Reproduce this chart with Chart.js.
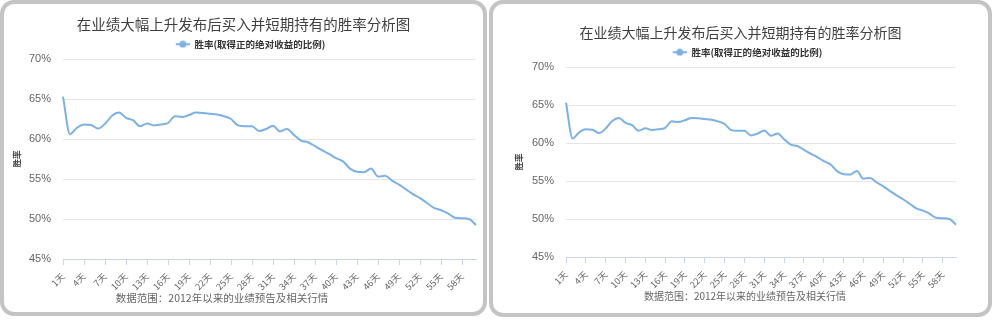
<!DOCTYPE html>
<html lang="zh-CN">
<head>
<meta charset="UTF-8">
<title>胜率分析图</title>
<script src="https://cdn.jsdelivr.net/npm/chart.js@4.4.1/dist/chart.umd.min.js"></script>
<style>
  body { margin: 0; background: #fff; width: 993px; height: 322px; overflow: hidden; position: relative; }
  .panel { position: absolute; box-sizing: border-box; border: 4px solid #c4c4c4; border-radius: 14px; background: #fff; }
  .panel canvas { position: absolute; left: 0; top: 0; }
  .foot { position: absolute; color: #666; white-space: nowrap; transform: translateX(-50%);
          font-family: "Noto Sans CJK SC", "Liberation Sans", sans-serif; line-height: 12px; }
</style>
</head>
<body>

<div class="panel" style="left:0;top:0;width:487px;height:316px;">
  <canvas id="c1" width="479" height="308"></canvas>
  <div class="foot" style="left:218px;top:288px;font-size:10.5px;">数据范围：2012年以来的业绩预告及相关行情</div>
</div>

<div class="panel" style="left:489px;top:0;width:503px;height:317px;">
  <canvas id="c2" width="495" height="309"></canvas>
  <div class="foot" style="left:252px;top:286px;font-size:10px;">数据范围：2012年以来的业绩预告及相关行情</div>
</div>

<script>
const titleText = '在业绩大幅上升发布后买入并短期持有的胜率分析图';
const seriesName = '胜率(取得正的绝对收益的比例)';
const yAxisTitle = '胜率';

const days = ['1天', '2天', '3天', '4天', '5天', '6天', '7天', '8天', '9天', '10天',
    '11天', '12天', '13天', '14天', '15天', '16天', '17天', '18天', '19天', '20天',
    '21天', '22天', '23天', '24天', '25天', '26天', '27天', '28天', '29天', '30天',
    '31天', '32天', '33天', '34天', '35天', '36天', '37天', '38天', '39天', '40天',
    '41天', '42天', '43天', '44天', '45天', '46天', '47天', '48天', '49天', '50天',
    '51天', '52天', '53天', '54天', '55天', '56天', '57天', '58天', '59天', '60天'];

// win rate in %
const winRate = [65.3, 60.6, 61.4, 61.8, 61.75, 61.3, 61.9, 62.9, 63.3, 62.65,
    62.35, 61.6, 61.95, 61.7, 61.8, 62.0, 62.85, 62.75, 63.0, 63.3,
    63.25, 63.15, 63.05, 62.85, 62.5, 61.7, 61.6, 61.6, 61.0, 61.25,
    61.65, 60.95, 61.25, 60.5, 59.8, 59.6, 59.1, 58.6, 58.15, 57.6,
    57.2, 56.3, 55.9, 55.85, 56.3, 55.3, 55.4, 54.8, 54.3, 53.7,
    53.1, 52.6, 52.0, 51.4, 51.1, 50.7, 50.15, 50.1, 50.0, 49.25];

const yMin = 45, yMax = 70, yStep = 5;
const labelEvery = 3;

const lineColor = '#7cb1e6';
const sansFont = '"Liberation Sans", "Noto Sans CJK SC", sans-serif';
const cjkFont = '"Noto Sans CJK SC", "Liberation Sans", sans-serif';
Chart.defaults.font.family = sansFont;

// line + dot marker for the legend, with empty space on the left
// so the legend item sits a bit right of centre like the original
function legendMarker() {
    const c = document.createElement('canvas');
    c.width = 28; c.height = 8;
    const g = c.getContext('2d');
    g.strokeStyle = lineColor;
    g.lineWidth = 2;
    g.beginPath(); g.moveTo(14, 4); g.lineTo(28, 4); g.stroke();
    g.fillStyle = lineColor;
    g.beginPath(); g.arc(21, 4, 3.5, 0, Math.PI * 2); g.fill();
    return c;
}

function makeChart(id, o) {
    const ctx = document.getElementById(id).getContext('2d');
    return new Chart(ctx, {
        type: 'line',
        data: {
            labels: days,
            datasets: [{
                label: seriesName,
                data: winRate,
                borderColor: lineColor,
                backgroundColor: lineColor,
                borderWidth: 2,
                pointRadius: 0,
                tension: 0.4,
                cubicInterpolationMode: 'monotone',
                fill: false
            }]
        },
        options: {
            responsive: false,
            animation: false,
            layout: { padding: 0 },
            plugins: {
                title: {
                    display: true,
                    text: titleText,
                    color: '#404040',
                    font: { family: cjkFont, size: o.titleSize, weight: 'normal', lineHeight: 1.2 },
                    padding: { top: o.titleTop, bottom: o.titleBottom }
                },
                legend: {
                    display: true,
                    labels: {
                        usePointStyle: true,
                        pointStyle: legendMarker(),
                        pointStyleWidth: 28,
                        padding: 0,
                        color: '#333',
                        font: { family: cjkFont, size: 9.5, weight: 'bold' }
                    }
                },
                tooltip: { enabled: false }
            },
            scales: {
                x: {
                    offset: false,
                    border: { display: true, color: '#ccd6eb', width: 1 },
                    grid: { drawOnChartArea: false, drawTicks: true, tickLength: 6, color: '#ccd6eb' },
                    ticks: {
                        autoSkip: false,
                        maxRotation: 45,
                        minRotation: 45,
                        padding: 6,
                        color: '#666',
                        font: { family: cjkFont, size: 9 },
                        callback: (v, i) => (i % labelEvery === 0 ? days[i] : null)
                    },
                    afterFit: s => { s.height = o.xHeight; }
                },
                y: {
                    min: yMin,
                    max: yMax,
                    border: { display: false },
                    grid: { color: '#e6e6e6', drawTicks: false },
                    ticks: {
                        stepSize: yStep,
                        padding: 12,
                        color: '#666',
                        font: { size: 11 },
                        callback: v => v + '%'
                    },
                    title: {
                        display: true,
                        text: yAxisTitle,
                        color: '#444',
                        font: { family: cjkFont, size: 8.5, weight: 'bold' },
                        padding: { top: o.yTitlePad, bottom: 0 }
                    },
                    afterFit: s => { s.width = o.areaLeft; }
                },
                // empty axis only to keep space on the right
                yRight: {
                    position: 'right',
                    display: true,
                    border: { display: false },
                    grid: { display: false },
                    ticks: { display: false },
                    afterFit: s => { s.width = o.padRight; }
                }
            }
        }
    });
}

makeChart('c1', { titleSize: 14.5, titleTop: 11.3, titleBottom: 6.8, xHeight: 53, areaLeft: 59, padRight: 7, yTitlePad: 8 });
makeChart('c2', { titleSize: 14, titleTop: 20.6, titleBottom: 6.1, xHeight: 56, areaLeft: 73, padRight: 32, yTitlePad: 21 });
</script>
</body>
</html>
